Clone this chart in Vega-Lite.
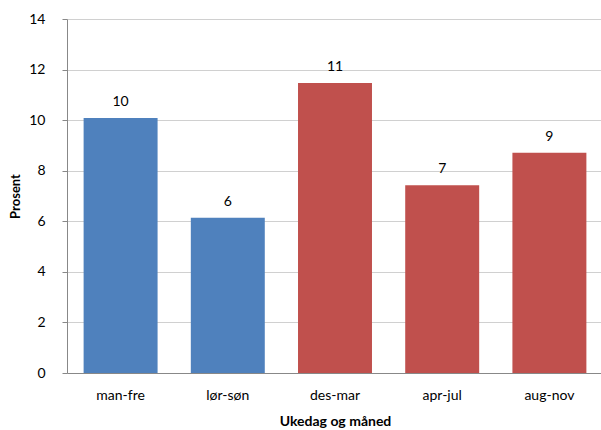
{
  "$schema": "https://vega.github.io/schema/vega-lite/v6.json",
  "autosize": "none",
  "padding": {"left": 67, "top": 19, "right": 0, "bottom": 57},
  "width": 536,
  "height": 354,
  "background": "white",
  "config": {
    "font": "Lato",
    "view": {"stroke": null}
  },
  "data": {
    "values": [
      {"kategori": "man-fre", "gruppe": "Ukedag", "prosent": 10.08},
      {"kategori": "lør-søn", "gruppe": "Ukedag", "prosent": 6.14},
      {"kategori": "des-mar", "gruppe": "Måned", "prosent": 11.47},
      {"kategori": "apr-jul", "gruppe": "Måned", "prosent": 7.43},
      {"kategori": "aug-nov", "gruppe": "Måned", "prosent": 8.71}
    ]
  },
  "encoding": {
    "x": {
      "field": "kategori",
      "type": "nominal",
      "sort": null,
      "scale": {"paddingInner": 0.31, "paddingOuter": 0.155},
      "axis": {
        "title": "Ukedag og måned",
        "titleFont": "Lato",
        "titleFontSize": 14,
        "titleFontWeight": "bold",
        "titleColor": "#000000",
        "titlePadding": 12,
        "labelAngle": 0,
        "labelFontSize": 14,
        "labelColor": "#000000",
        "labelPadding": 15,
        "ticks": false,
        "domainColor": "#888888",
        "grid": false
      }
    },
    "y": {
      "field": "prosent",
      "type": "quantitative",
      "scale": {"domain": [0, 14], "nice": false},
      "axis": {
        "title": "Prosent",
        "titleFontSize": 13,
        "titleFontWeight": "bold",
        "titleColor": "#000000",
        "titlePadding": 6,
        "values": [0, 2, 4, 6, 8, 10, 12, 14],
        "labelFontSize": 14,
        "labelColor": "#000000",
        "labelPadding": 17,
        "tickSize": 5,
        "tickColor": "#888888",
        "domainColor": "#888888",
        "gridColor": "#d0d0d0"
      }
    }
  },
  "layer": [
    {
      "mark": {"type": "bar"},
      "encoding": {
        "color": {
          "field": "gruppe",
          "type": "nominal",
          "scale": {"domain": ["Ukedag", "Måned"], "range": ["#4F81BD", "#C0504D"]},
          "legend": null
        }
      }
    },
    {
      "mark": {"type": "text", "dy": -16, "fontSize": 14, "color": "#000000"},
      "encoding": {
        "text": {"field": "prosent", "type": "quantitative", "format": ".0f"}
      }
    }
  ]
}
